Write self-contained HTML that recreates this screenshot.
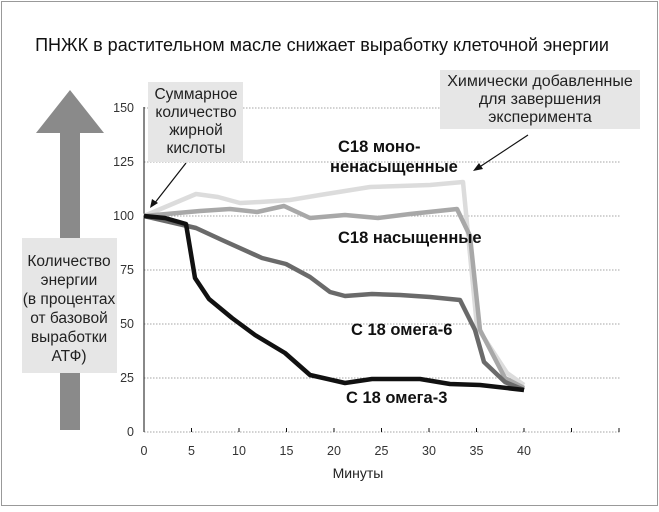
<!DOCTYPE html><html><head><meta charset="utf-8"><style>
body{margin:0;background:#fff;}
svg text{font-family:"Liberation Sans",sans-serif;}
</style></head><body>
<svg width="659" height="507" xmlns="http://www.w3.org/2000/svg">
<rect x="1.5" y="1.5" width="656" height="504" fill="#fff" stroke="#999" stroke-width="1"/>
<text x="322" y="51" font-size="18" text-anchor="middle" fill="#111">ПНЖК в растительном масле снижает выработку клеточной энергии</text>
<polygon points="60,430 80,430 80,133 104,133 70,90 36,133 60,133" fill="#8a8a8a"/>
<rect x="22" y="238" width="95" height="135" fill="#e6e6e6"/>
<g font-size="15.5" fill="#222" text-anchor="middle">
<text x="69" y="266">Количество</text><text x="69" y="285">энергии</text><text x="69" y="304">(в процентах</text><text x="69" y="323">от базовой</text><text x="69" y="342">выработки</text><text x="69" y="361">АТФ)</text></g>
<g stroke="#888" stroke-width="0.8" stroke-dasharray="1.5,1.5">
<line x1="144" y1="108" x2="620" y2="108"/><line x1="144" y1="162" x2="620" y2="162"/><line x1="144" y1="216" x2="620" y2="216"/><line x1="144" y1="270" x2="620" y2="270"/><line x1="144" y1="324" x2="620" y2="324"/><line x1="144" y1="378" x2="620" y2="378"/><line x1="144" y1="432" x2="620" y2="432"/></g>
<line x1="144" y1="107" x2="144" y2="432" stroke="#111" stroke-width="1"/>
<g stroke="#111" stroke-width="1"><line x1="191.5" y1="428" x2="191.5" y2="432"/><line x1="239" y1="428" x2="239" y2="432"/><line x1="286.5" y1="428" x2="286.5" y2="432"/><line x1="334" y1="428" x2="334" y2="432"/><line x1="381.5" y1="428" x2="381.5" y2="432"/><line x1="429" y1="428" x2="429" y2="432"/><line x1="476.5" y1="428" x2="476.5" y2="432"/><line x1="524" y1="428" x2="524" y2="432"/><line x1="571.5" y1="428" x2="571.5" y2="432"/><line x1="619" y1="428" x2="619" y2="432"/></g>
<g font-size="12.5" fill="#333" text-anchor="end"><text x="134" y="112">150</text><text x="134" y="166">125</text><text x="134" y="220">100</text><text x="134" y="274">75</text><text x="134" y="328">50</text><text x="134" y="382">25</text><text x="134" y="436">0</text></g>
<g font-size="12.5" fill="#333" text-anchor="middle"><text x="144" y="455">0</text><text x="191.5" y="455">5</text><text x="239" y="455">10</text><text x="286.5" y="455">15</text><text x="334" y="455">20</text><text x="381.5" y="455">25</text><text x="429" y="455">30</text><text x="476.5" y="455">35</text><text x="524" y="455">40</text></g>
<text x="358" y="478" font-size="14" fill="#222" text-anchor="middle">Минуты</text>
<g fill="none" stroke-width="4.5" stroke-linejoin="round">
<polyline stroke="#dcdcdc" points="144,216 196,194 218,197 240,203 260,202 290,200 320,195 370,187 400,186 430,185 463,182 477,327 507,373 524,385"/>
<polyline stroke="#a8a8a8" points="144,216 200,211 230,209 257,212 284,206 310,218 345,215 378,218 410,214 457,209 470,236 480,330 505,378 524,388"/>
<polyline stroke="#6a6a6a" points="144,216 196,228 222,240 262,258 286,264 310,277 330,292 345,296 372,294 400,295 430,297 460,300 475,330 484,362 505,382 524,390"/>
<polyline stroke="#111" points="144,216 165,218 186,224 195,278 209,299 232,318 255,335 285,353 310,375 345,383 372,379 420,379 450,384 480,385 524,390"/>
</g>
<rect x="148" y="82" width="95" height="80" fill="#e6e6e6"/>
<g font-size="15.5" fill="#222" text-anchor="middle"><text x="196" y="99">Суммарное</text><text x="196" y="117">количество</text><text x="196" y="135">жирной</text><text x="196" y="153">кислоты</text></g>
<line x1="186" y1="163" x2="154" y2="204" stroke="#111" stroke-width="1.2"/><polygon points="150,208 152,199 158,203" fill="#111"/>
<rect x="440" y="70" width="200" height="59" fill="#e6e6e6"/>
<g font-size="16" fill="#222" text-anchor="middle"><text x="540" y="86">Химически добавленные</text><text x="540" y="104">для завершения</text><text x="540" y="122">эксперимента</text></g>
<line x1="528" y1="135" x2="478" y2="168" stroke="#111" stroke-width="1.2"/><polygon points="473,171 479,163 483,169" fill="#111"/>
<g font-size="16.5" font-weight="bold" fill="#111"><text x="338" y="152">С18 моно-</text><text x="330" y="172">ненасыщенные</text><text x="338" y="243">С18 насыщенные</text><text x="351" y="335">С 18 омега-6</text><text x="346" y="403">С 18 омега-3</text></g>
</svg>
</body></html>
